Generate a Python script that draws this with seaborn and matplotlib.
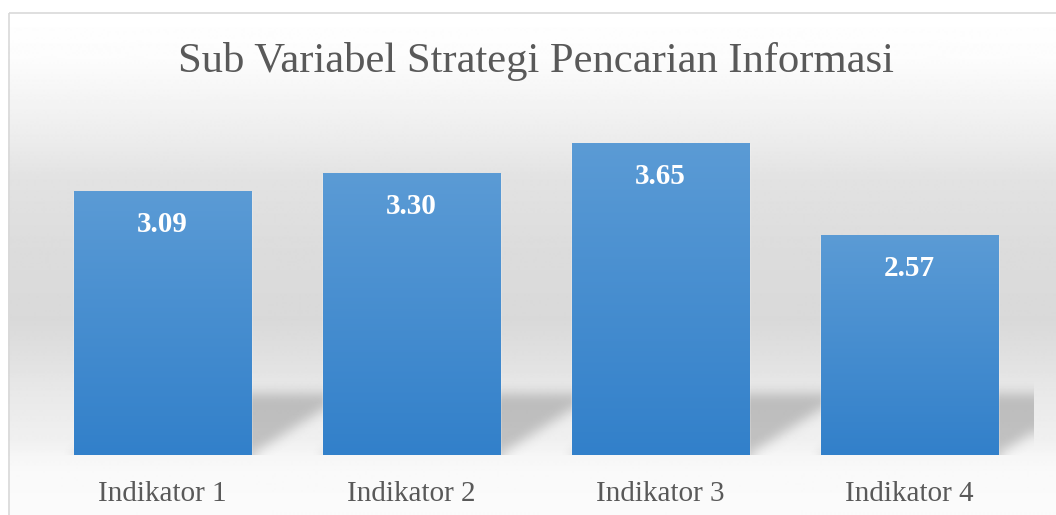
import matplotlib
matplotlib.use("Agg")
import matplotlib.pyplot as plt
import numpy as np
import seaborn as sns
from matplotlib.colors import LinearSegmentedColormap
from matplotlib.patches import Rectangle

# data
categories = ["Indikator 1", "Indikator 2", "Indikator 3", "Indikator 4"]
values = [3.09, 3.30, 3.65, 2.57]
title = "Sub Variabel Strategi Pencarian Informasi"

sns.set_style("white")
plt.rcParams["font.family"] = ["Liberation Serif", "DejaVu Serif"]

W, H = 1056, 515
fig = plt.figure(figsize=(W / 100, H / 100), dpi=100, facecolor="white")

# chart area: soft grey vertical gradient with a thin frame
bg = fig.add_axes([0, 0, 1, 1], zorder=-5)
stops_y = [12, 60, 100, 140, 180, 250, 320, 360, 390, 440, 455, 470, 515]
stops_v = [255, 252, 244, 236, 226, 220, 217, 225, 232, 240, 246, 249, 251]
yy = np.arange(12, H + 1)
grad = np.interp(yy, stops_y, stops_v) / 255
bg.imshow(np.repeat(grad[:, None], 2, axis=1), cmap="gray", vmin=0, vmax=1,
          extent=(8, W + 10, H, 12), aspect="auto", interpolation="bilinear")
bg.add_patch(Rectangle((8.5, 12.5), W, H, fill=False, edgecolor="#d9d9d9", lw=1.2))
bg.set_xlim(0, W)
bg.set_ylim(H, 0)
bg.axis("off")

ax = fig.add_axes([38 / W, 60 / H, 996 / W, 341 / H])
ax.patch.set_alpha(0)
sns.barplot(x=categories, y=values, color="#5b9bd5", saturation=1, width=0.711, ax=ax)
ax.set_xlim(-0.5, 3.5)
ax.set_ylim(0, 4)

# bar fill gradient
bar_cmap = LinearSegmentedColormap.from_list("bar", ["#3280ca", "#5b9bd5"])
for p in ax.patches:
    x0, w, h = p.get_x(), p.get_width(), p.get_height()
    ax.imshow(np.linspace(0, 1, 256)[:, None], cmap=bar_cmap, origin="lower",
              extent=(x0, x0 + w, 0, h), aspect="auto", zorder=3)


def box_blur(a, r, axis):
    pad = [(0, 0), (0, 0)]
    pad[axis] = (r, r)
    b = np.pad(a, pad, mode="edge")
    c = np.insert(np.cumsum(b, axis=axis), 0, 0, axis=axis)
    n = a.shape[axis]
    hi = np.take(c, np.arange(2 * r + 1, 2 * r + 1 + n), axis=axis)
    lo = np.take(c, np.arange(0, n), axis=axis)
    return (hi - lo) / (2 * r + 1)


# perspective floor shadow behind each bar
ymax = 1.2
xs = np.linspace(-0.5, 3.5, 996)
ys = np.linspace(0, ymax, int(ymax * 85.2))
X, Y = np.meshgrid(xs, ys)
depth_y, depth_x = 0.72, 0.39
mask = np.zeros_like(X)
shift = Y / depth_y * depth_x
for p in ax.patches:
    left, right = p.get_x(), p.get_x() + p.get_width()
    mask[(Y <= depth_y) & (X >= left + shift) & (X <= right + shift)] = 1
for _ in range(3):
    mask = box_blur(box_blur(mask, 5, 0), 5, 1)
shadow = np.zeros(mask.shape + (4,))
shadow[..., :3] = 0.45
shadow[..., 3] = mask * 0.38
ax.imshow(shadow, origin="lower", extent=(-0.5, 3.5, 0, ymax), aspect="auto", zorder=0.5)
ax.set_xlim(-0.5, 3.5)
ax.set_ylim(0, 4)

for p, v in zip(ax.patches, values):
    ax.annotate(f"{v:.2f}", xy=(p.get_x() + p.get_width() / 2, p.get_height()),
                xytext=(0, -29), textcoords="offset points", ha="center", va="baseline",
                color="white", fontsize=21, fontweight="bold", zorder=5)

ax.set_yticks([])
ax.tick_params(axis="x", length=0, pad=19, labelsize=21, labelcolor="#595959")
for s in ax.spines.values():
    s.set_visible(False)

fig.text(535.5 / W, 1 - 72 / H, title, ha="center", va="baseline", fontsize=30.7, color="#595959")

fig.savefig("out.png", dpi=100, facecolor="white")
